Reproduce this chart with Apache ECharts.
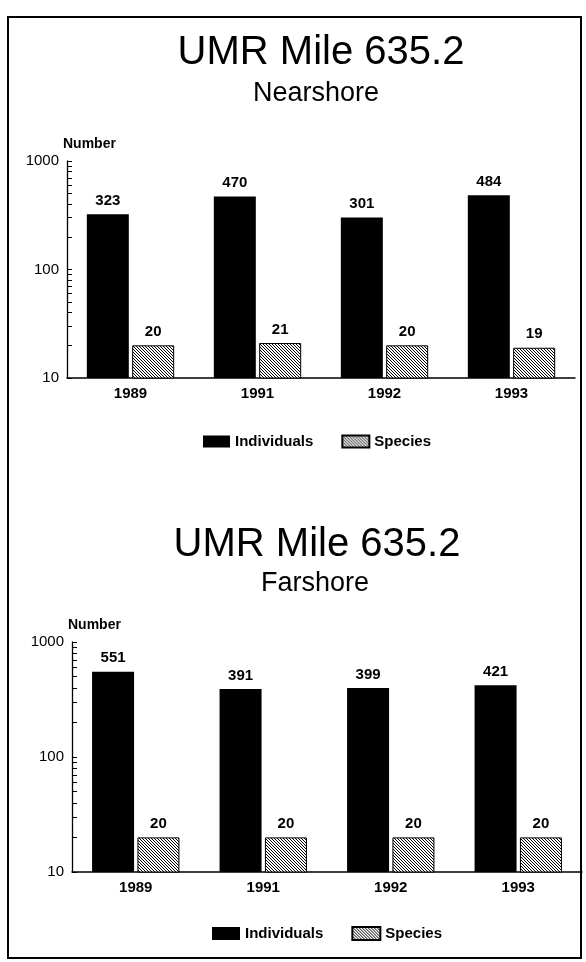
<!DOCTYPE html>
<html><head><meta charset="utf-8">
<script src="https://cdn.jsdelivr.net/npm/echarts@6/dist/echarts.min.js"></script>
<style>html,body{margin:0;padding:0;background:#fff}#c{width:586px;height:962px}</style>
</head><body><div id="c"></div>
<script>
const years = ['1989', '1991', '1992', '1993'];
const nearIndividuals = [323, 470, 301, 484];
const nearSpecies = [20, 21, 20, 19];
const farIndividuals = [551, 391, 399, 421];
const farSpecies = [20, 20, 20, 20];
const yTickValues = [10, 20, 30, 40, 50, 60, 70, 80, 90, 100, 200, 300, 400, 500, 600, 700, 800, 900, 1000];
const yLabelValues = [10, 100, 1000];

// hatch pattern
const pc = document.createElement('canvas');
pc.width = 6; pc.height = 6;
const pctx = pc.getContext('2d');
pctx.fillStyle = '#fff'; pctx.fillRect(0, 0, 6, 6);
pctx.fillStyle = '#000';
for (let x = 0; x < 6; x++) for (let y = 0; y < 6; y++) {
  if (((x - y) % 3 + 3) % 3 === 0) pctx.fillRect(x, y, 1, 1);
}
const hatch = { image: pc, repeat: 'repeat' };

const FONT = '"Liberation Sans", Arial, Helvetica, sans-serif';
const chart = echarts.init(document.getElementById('c'), null, { renderer: 'canvas' });

function yAx(gi) {
  return {
    type: 'log', gridIndex: gi, min: 10, max: 1000, logBase: 10,
    name: 'Number', nameLocation: 'end', nameGap: 10,
    nameTextStyle: { fontFamily: FONT, fontWeight: 'bold', fontSize: 14, color: '#000', align: 'left', padding: [0, 0, 0, -4] },
    axisLine: { show: true, lineStyle: { color: '#000', width: 1.3 } },
    axisTick: { show: true, inside: true, length: 5, customValues: yTickValues, lineStyle: { color: '#000', width: 1 } },
    axisLabel: { customValues: yLabelValues, formatter: v => String(Math.round(v)), fontFamily: FONT, fontSize: 15, color: '#000', margin: 8, fontWeight: 500 },
    splitLine: { show: false }, minorTick: { show: false }
  };
}
function xAx(gi) {
  return {
    type: 'category', gridIndex: gi, data: years,
    axisLine: { show: true, lineStyle: { color: '#000', width: 1.5 } },
    axisTick: { show: false },
    axisLabel: { fontFamily: FONT, fontWeight: 'bold', fontSize: 15, color: '#000', margin: 8 }
  };
}
const lbl = { show: true, position: 'top', distance: 6, fontFamily: FONT, fontWeight: 'bold', fontSize: 15, color: '#000' };
function ser(name, data, gi, hatched) {
  return {
    name, type: 'bar', xAxisIndex: gi, yAxisIndex: gi, data,
    barWidth: 42, barGap: '8%',
    itemStyle: hatched ? { color: hatch, borderColor: '#000', borderWidth: 1 } : { color: '#000' },
    label: lbl, emphasis: { disabled: true }, animation: false
  };
}
const legendText = { fontFamily: FONT, fontWeight: 'bold', fontSize: 15, color: '#000' };

chart.setOption({
  animation: false,
  title: [
    { text: 'UMR Mile 635.2', left: 316, top: 28, textAlign: 'center',
      textStyle: { fontFamily: FONT, fontSize: 40, fontWeight: 'normal', color: '#000' } },
    { text: 'Nearshore', left: 311, top: 75, textAlign: 'center',
      textStyle: { fontFamily: FONT, fontSize: 27, fontWeight: 'normal', color: '#000' } },
    { text: 'UMR Mile 635.2', left: 312, top: 520, textAlign: 'center',
      textStyle: { fontFamily: FONT, fontSize: 40, fontWeight: 'normal', color: '#000' } },
    { text: 'Farshore', left: 310, top: 565, textAlign: 'center',
      textStyle: { fontFamily: FONT, fontSize: 27, fontWeight: 'normal', color: '#000' } }
  ],
  grid: [
    { left: 67, width: 508, top: 161, height: 217 },
    { left: 72, width: 510, top: 642, height: 230 }
  ],
  xAxis: [xAx(0), xAx(1)],
  yAxis: [yAx(0), yAx(1)],
  legend: [
    { data: ['Individuals', 'Species'], left: 198, top: 429, itemWidth: 27, itemHeight: 12, itemGap: 28, icon: 'rect', textStyle: legendText, selectedMode: false },
    { data: ['Individuals', 'Species'], left: 207, top: 921, itemWidth: 28, itemHeight: 13, itemGap: 28, icon: 'rect', textStyle: legendText, selectedMode: false }
  ],
  series: [
    ser('Individuals', nearIndividuals, 0, false),
    ser('Species', nearSpecies, 0, true),
    ser('Individuals', farIndividuals, 1, false),
    ser('Species', farSpecies, 1, true)
  ],
  graphic: [
    { type: 'rect', shape: { x: 8, y: 17, width: 573, height: 941 }, style: { fill: 'none', stroke: '#000', lineWidth: 2 }, silent: true }
  ]
});
</script></body></html>
